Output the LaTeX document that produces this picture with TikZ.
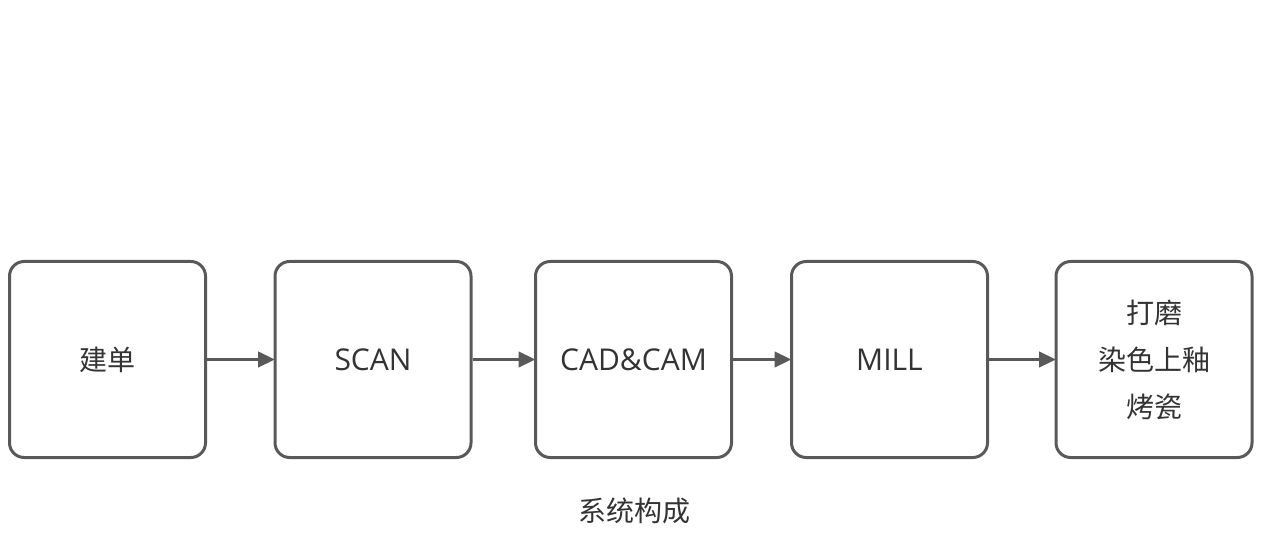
\documentclass[tikz,border=0pt]{standalone}
\usepackage{fontspec}
\setmainfont{Open Sans}
\newfontfamily\cjk{Noto Sans CJK SC}
\usetikzlibrary{arrows.meta}
\definecolor{boxline}{HTML}{595959}
\definecolor{txt}{HTML}{333333}
\newcommand{\cjktext}{\cjk\fontsize{21}{35.25}\selectfont}
\tikzset{
  stepbox/.style={draw=boxline, line width=2.25pt, rounded corners=11pt,
    minimum width=147pt, minimum height=147pt, inner sep=0pt,
    text=txt, align=center, font=\fontsize{22.5}{35.25}\selectfont},
  flow/.style={draw=boxline, line width=2.25pt,
    -{Triangle[length=12.5pt,width=11.5pt]}, shorten >=-1pt},
  title/.style={text=txt, font=\cjktext}
}
\begin{document}
\begin{tikzpicture}[x=0.75pt,y=-0.75pt]
\useasboundingbox (0,0) rectangle (1261,545);
\node[stepbox] (a) at (107.5,359.5) {\cjktext 建单};
\node[stepbox] (b) at (373,359.5) {SCAN};
\node[stepbox] (c) at (633.5,359.5) {CAD\&CAM};
\node[stepbox] (d) at (889.5,359.5) {MILL};
\node[stepbox] (e) at (1154,359.5) {\cjktext 打磨\\ \cjktext 染色上釉\\ \cjktext 烤瓷};
\draw[flow] (a) -- (b);
\draw[flow] (b) -- (c);
\draw[flow] (c) -- (d);
\draw[flow] (d) -- (e);
\node[title] (t) at (634,511) {系统构成};
\end{tikzpicture}
\end{document}
